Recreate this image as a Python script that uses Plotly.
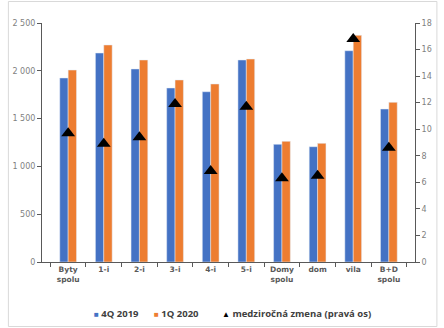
import plotly.graph_objects as go

categories = ["Byty<br>spolu", "1-i", "2-i", "3-i", "4-i", "5-i", "Domy<br>spolu", "dom", "vila", "B+D<br>spolu"]
q4_2019 = [1925, 2186, 2019, 1820, 1781, 2113, 1231, 1206, 2210, 1600]
q1_2020 = [2008, 2270, 2113, 1904, 1862, 2123, 1262, 1241, 2371, 1670]
yoy_change = [9.7, 8.9, 9.4, 11.9, 6.85, 11.7, 6.3, 6.5, 16.8, 8.6]
left_ticks = [0, 500, 1000, 1500, 2000, 2500]
left_tick_labels = ["0", "500", "1 000", "1 500", "2 000", "2 500"]
right_ticks = [0, 2, 4, 6, 8, 10, 12, 14, 16, 18]
series_names = ["4Q 2019", "1Q 2020", "medziročná zmena (pravá os)"]
series_colors = ["#4472C4", "#ED7D31", "black"]

W, H = 444, 328
L, R, T, B = 36, 25, 23, 66
pw, ph = W - L - R, H - T - B

fig = go.Figure()
fig.add_trace(go.Bar(x=categories, y=q4_2019, name=series_names[0], marker_color=series_colors[0]))
fig.add_trace(go.Bar(x=categories, y=q1_2020, name=series_names[1], marker_color=series_colors[1]))
fig.add_trace(go.Scatter(x=categories, y=yoy_change, name=series_names[2],
                         mode="markers", yaxis="y2",
                         marker=dict(symbol="triangle-up", size=12, color=series_colors[2])))

def px_x(p):
    return (p - L) / pw

def px_y(p):
    return (H - B - p) / ph

# compact legend drawn as text (symbol glyph + label)
legend_x = [87, 149, 219]
legend_sym = ["■", "■", "▲"]
annotations = []
for name, col, sym, lx in zip(series_names, series_colors, legend_sym, legend_x):
    annotations.append(dict(
        xref="paper", yref="paper", x=px_x(lx), y=px_y(313), xanchor="left", yanchor="middle",
        showarrow=False,
        text=f"<span style='color:{col};font-size:8px'>{sym}</span> {name}",
        font=dict(size=9.5, color="#404040", family="Open Sans", weight="bold"),
    ))

fig.update_layout(
    width=W, height=H,
    margin=dict(l=L, r=R, t=T, b=B),
    paper_bgcolor="white", plot_bgcolor="white",
    barmode="group", bargap=0.53, bargroupgap=0,
    font=dict(family="DejaVu Sans", size=8, color="#595959"),
    xaxis=dict(showline=True, linecolor="#595959", linewidth=1,
               ticks="outside", tickson="boundaries", ticklen=4, tickcolor="#595959",
               tickfont=dict(size=7.5, color="#595959", family="DejaVu Sans", weight="bold"),
               showgrid=False),
    yaxis=dict(range=[0, 2500], tickvals=left_ticks, ticktext=left_tick_labels,
               showline=True, linecolor="#595959", ticks="outside", ticklen=4,
               tickcolor="#595959", showgrid=False, zeroline=False,
               tickfont=dict(size=8, color="#7f7f7f")),
    yaxis2=dict(range=[0, 18], tickvals=right_ticks, overlaying="y", side="right",
                showline=True, linecolor="#595959", ticks="outside", ticklen=4,
                tickcolor="#595959", showgrid=False, zeroline=False,
                tickfont=dict(size=8, color="#7f7f7f")),
    showlegend=False,
    annotations=annotations,
    shapes=[dict(type="rect", xref="paper", yref="paper",
                 x0=px_x(1.5), x1=px_x(441.5), y0=px_y(326.5), y1=px_y(1.5),
                 line=dict(color="#d9d9d9", width=1), layer="below")],
)

fig.write_html("out.html")
